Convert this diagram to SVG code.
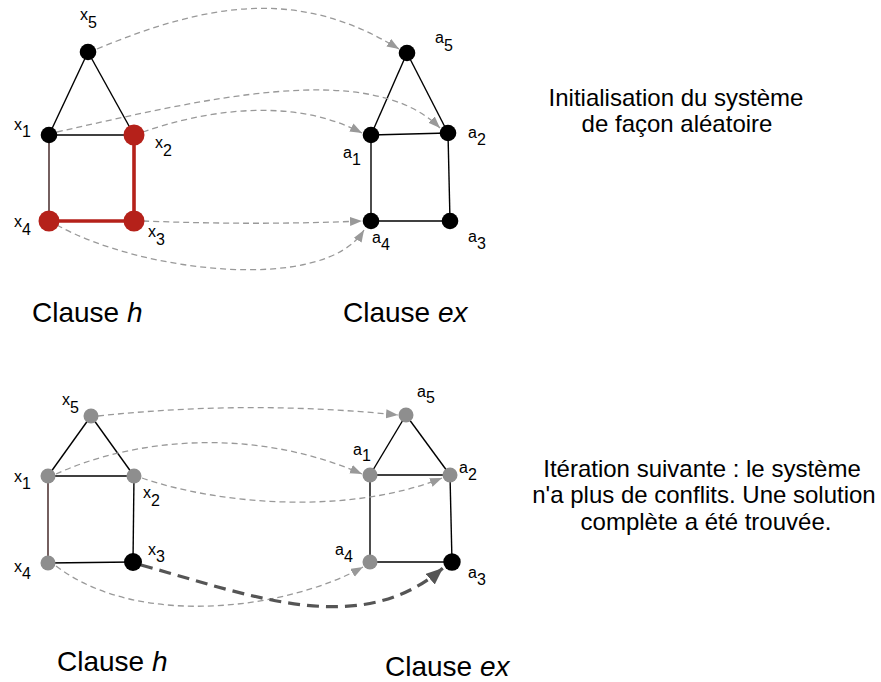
<svg xmlns="http://www.w3.org/2000/svg" width="881" height="682" viewBox="0 0 881 682">
<style>
text{font-family:"Liberation Sans",Arial,Helvetica,sans-serif;fill:#000}
.lbl{font-size:16px}
.cap{font-size:28px}
.desc{font-size:24px;text-anchor:middle}
.edge{stroke:#000;stroke-width:1.4;fill:none}
.edgeb{stroke:#3a1c1c;stroke-width:1.4;fill:none}
.redge{stroke:#b5211a;stroke-width:3.6;fill:none}
.map{stroke:#999;stroke-width:1.3;fill:none;stroke-dasharray:6 4;marker-end:url(#ah)}
.mapb{stroke:#555;stroke-width:3.2;fill:none;stroke-dasharray:12 7;marker-end:url(#ahb)}
.blk{fill:#000}
.red{fill:#b5211a}
.gry{fill:#8e8e8e}
</style>
<defs>
<marker id="ah" markerUnits="userSpaceOnUse" markerWidth="13" markerHeight="10" refX="12" refY="4.5" orient="auto">
<path d="M0,0 L12,4.5 L0,9 z" fill="#999"/>
</marker>
<marker id="ahb" markerUnits="userSpaceOnUse" markerWidth="19" markerHeight="15" refX="17" refY="7" orient="auto">
<path d="M0,0 L17,7 L0,14 z" fill="#555"/>
</marker>
</defs>
<rect width="881" height="682" fill="#fff"/>

<g id="connectors">
<!-- top graph edges -->
<line class="edge" x1="88" y1="52" x2="49" y2="135"/>
<line class="edge" x1="88" y1="52" x2="134" y2="135"/>
<line class="edge" x1="49" y1="135" x2="134" y2="135"/>
<line class="edgeb" x1="49" y1="135" x2="49" y2="221"/>
<line class="redge" x1="134" y1="135" x2="134" y2="221"/>
<line class="redge" x1="49" y1="221" x2="134" y2="221"/>
<line class="edge" x1="407" y1="53" x2="371" y2="135"/>
<line class="edge" x1="407" y1="53" x2="448" y2="133"/>
<line class="edge" x1="371" y1="135" x2="448" y2="133"/>
<line class="edge" x1="371" y1="135" x2="371" y2="221"/>
<line class="edge" x1="448" y1="133" x2="450" y2="221"/>
<line class="edge" x1="371" y1="221" x2="450" y2="221"/>
<!-- top mapping arrows -->
<path class="map" d="M97,49 C210,2 300,-12 399,49"/>
<path class="map" d="M57,132 C200,100 370,58 440,128"/>
<path class="map" d="M143,132 C200,112 290,95 362,133"/>
<path class="map" d="M143,221 C220,224 290,224 362,221"/>
<path class="map" d="M57,225 C140,272 325,294 364,230"/>
<!-- bottom graph edges -->
<line class="edge" x1="91" y1="416" x2="48" y2="476"/>
<line class="edge" x1="91" y1="416" x2="134" y2="476"/>
<line class="edge" x1="48" y1="476" x2="134" y2="476"/>
<line class="edgeb" x1="48" y1="476" x2="48" y2="563"/>
<line class="edge" x1="134" y1="476" x2="133" y2="562"/>
<line class="edge" x1="48" y1="563" x2="133" y2="562"/>
<line class="edge" x1="406" y1="415" x2="370" y2="475"/>
<line class="edge" x1="406" y1="415" x2="450" y2="475"/>
<line class="edge" x1="370" y1="475" x2="450" y2="475"/>
<line class="edge" x1="370" y1="475" x2="370" y2="562"/>
<line class="edge" x1="450" y1="475" x2="452" y2="562"/>
<line class="edge" x1="370" y1="562" x2="452" y2="562"/>
<!-- bottom mapping arrows -->
<path class="map" d="M98,416 C200,405 300,405 398,415"/>
<path class="map" d="M56,474 C130,440 250,425 362,474"/>
<path class="map" d="M142,478 C220,505 350,515 442,478"/>
<path class="map" d="M56,566 C140,630 290,608 363,567"/>
<path class="mapb" d="M141,565 C250,595 360,640 443,568"/>
</g>

<!-- top nodes -->
<g id="x5_top"><circle class="blk" cx="88" cy="52" r="8.3"/><text class="lbl" x="80" y="20">x<tspan dy="8">5</tspan></text></g>
<g id="x1_top"><circle class="blk" cx="49" cy="135" r="8.3"/><text class="lbl" x="14" y="130">x<tspan dy="7">1</tspan></text></g>
<g id="x2_top"><circle class="red" cx="134" cy="135" r="10.5"/><text class="lbl" x="155" y="148">x<tspan dy="8">2</tspan></text></g>
<g id="x3_top"><circle class="red" cx="134" cy="221" r="10.5"/><text class="lbl" x="148" y="237">x<tspan dy="8">3</tspan></text></g>
<g id="x4_top"><circle class="red" cx="49" cy="221" r="10.5"/><text class="lbl" x="14" y="227">x<tspan dy="8">4</tspan></text></g>
<g id="a5_top"><circle class="blk" cx="407" cy="53" r="8.3"/><text class="lbl" x="435" y="43">a<tspan dy="8">5</tspan></text></g>
<g id="a1_top"><circle class="blk" cx="371" cy="135" r="8.3"/><text class="lbl" x="343" y="158">a<tspan dy="7">1</tspan></text></g>
<g id="a2_top"><circle class="blk" cx="448" cy="133" r="8.3"/><text class="lbl" x="468" y="138">a<tspan dy="7">2</tspan></text></g>
<g id="a3_top"><circle class="blk" cx="450" cy="221" r="8.3"/><text class="lbl" x="468" y="242">a<tspan dy="7">3</tspan></text></g>
<g id="a4_top"><circle class="blk" cx="371" cy="221" r="8.3"/><text class="lbl" x="372" y="243">a<tspan dy="7">4</tspan></text></g>

<!-- bottom nodes -->
<g id="x5_bot"><circle class="gry" cx="91" cy="416" r="7.5"/><text class="lbl" x="62" y="405">x<tspan dy="8">5</tspan></text></g>
<g id="x1_bot"><circle class="gry" cx="48" cy="476" r="7.5"/><text class="lbl" x="14" y="482">x<tspan dy="7">1</tspan></text></g>
<g id="x2_bot"><circle class="gry" cx="134" cy="476" r="7.5"/><text class="lbl" x="143" y="498">x<tspan dy="8">2</tspan></text></g>
<g id="x3_bot"><circle class="blk" cx="133" cy="562" r="9"/><text class="lbl" x="148" y="555">x<tspan dy="7">3</tspan></text></g>
<g id="x4_bot"><circle class="gry" cx="48" cy="563" r="7.5"/><text class="lbl" x="14" y="572">x<tspan dy="7">4</tspan></text></g>
<g id="a5_bot"><circle class="gry" cx="406" cy="415" r="7.5"/><text class="lbl" x="417" y="397">a<tspan dy="6">5</tspan></text></g>
<g id="a1_bot"><circle class="gry" cx="370" cy="475" r="7.5"/><text class="lbl" x="353" y="455">a<tspan dy="6">1</tspan></text></g>
<g id="a2_bot"><circle class="gry" cx="450" cy="475" r="7.5"/><text class="lbl" x="459" y="473">a<tspan dy="7">2</tspan></text></g>
<g id="a3_bot"><circle class="blk" cx="452" cy="562" r="8.7"/><text class="lbl" x="468" y="578">a<tspan dy="7">3</tspan></text></g>
<g id="a4_bot"><circle class="gry" cx="370" cy="562" r="7.5"/><text class="lbl" x="335" y="555">a<tspan dy="7">4</tspan></text></g>

<!-- captions -->
<g id="captions">
<text class="cap" x="32" y="322">Clause <tspan font-style="italic">h</tspan></text>
<text class="cap" x="343" y="322">Clause <tspan font-style="italic">ex</tspan></text>
<text class="cap" x="57" y="671">Clause <tspan font-style="italic">h</tspan></text>
<text class="cap" x="385" y="676">Clause <tspan font-style="italic">ex</tspan></text>
</g>
<g id="desc_top">
<text class="desc" x="676" y="106">Initialisation du système</text>
<text class="desc" x="677" y="132">de façon aléatoire</text>
</g>
<g id="desc_bot">
<text class="desc" x="702" y="477">Itération suivante : le système</text>
<text class="desc" x="704" y="503">n'a plus de conflits. Une solution</text>
<text class="desc" x="706" y="530">complète a été trouvée.</text>
</g>
</svg>
